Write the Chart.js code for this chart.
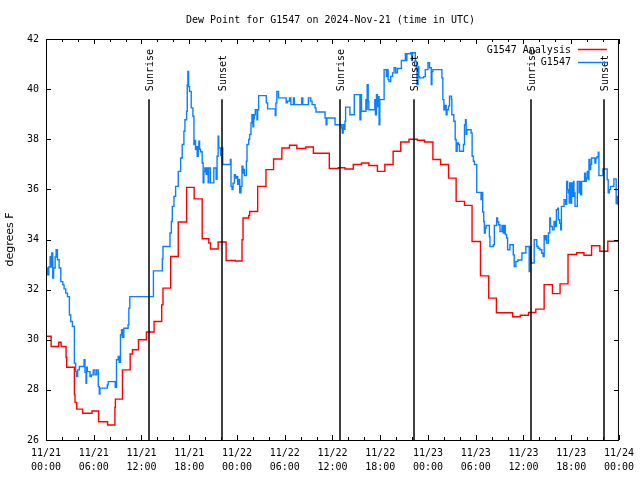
<!DOCTYPE html>
<html>
<head>
<meta charset="utf-8">
<title>Dew Point for G1547</title>
<script src="https://cdn.jsdelivr.net/npm/chart.js@4.4.1/dist/chart.umd.min.js"></script>
<style>
  html, body { margin: 0; padding: 0; background: #fff; }
</style>
</head>
<body>
<canvas id="dewChart" width="640" height="480"></canvas>
<script>
// time axis is hours since 2024-11-21 00:00 UTC
const analysisHours = [0, 0.65, 1.6, 1.9, 2.52, 2.6, 3.57, 3.65, 3.86, 4.6,
	5.78, 6.61, 7.74, 8.66, 8.72, 9.61, 10.58, 10.87, 11.62, 12.62,
	13.58, 14.54, 14.7, 15.67, 16.62, 17.67, 18.62, 19.63, 20.46, 20.67,
	21.63, 22.63, 23.8, 24.63, 24.76, 25.47, 25.6, 26.6, 27.64, 28.6,
	29.64, 30.6, 31.52, 32.64, 33.6, 35.6, 36.73, 37.57, 38.61, 39.65,
	40.57, 41.65, 42.58, 43.62, 44.58, 45.62, 46.66, 47.58, 48.62, 49.58,
	50.59, 51.54, 52.59, 53.54, 54.6, 55.63, 56.6, 58.64, 59.6, 60.64,
	61.55, 62.6, 63.64, 64.6, 65.6, 66.68, 67.6, 68.56, 69.6, 70.6, 72];
const analysisDew = [30.14, 29.73, 29.9, 29.73, 29.3, 28.9, 27.8, 27.5, 27.23, 27.07,
	27.16, 26.73, 26.6, 27.3, 27.63, 28.8, 29.43, 29.6, 30.0, 30.31,
	30.73, 31.39, 32.06, 33.32, 34.7, 36.08, 35.62, 34.03, 33.86, 33.62,
	33.9, 33.16, 33.14, 33.99, 34.86, 34.96, 35.12, 36.12, 36.79, 37.21,
	37.65, 37.76, 37.63, 37.69, 37.44, 36.83, 36.86, 36.81, 36.99, 37.05,
	36.95, 36.72, 36.99, 37.52, 37.89, 38.0, 37.96, 37.89, 37.19, 36.99,
	36.45, 35.52, 35.36, 33.92, 32.55, 31.66, 31.08, 30.92, 30.98, 31.09,
	31.22, 32.2, 31.84, 32.23, 33.4, 33.47, 33.37, 33.75, 33.53, 33.93, 33.89];

const stationHours = [0, 0.19, 0.35, 0.52, 0.6, 0.73, 0.85, 0.95, 1.15, 1.27,
	1.44, 1.65, 1.86, 2.11, 2.27, 2.48, 2.69, 2.94, 3.11, 3.32,
	3.57, 3.73, 3.86, 3.98, 4.19, 4.78, 4.9, 5.03, 5.1, 5.19,
	5.53, 5.7, 5.94, 6.15, 6.36, 6.57, 6.7, 6.78, 7.7, 7.82,
	8.7, 8.86, 9.07, 9.2, 9.36, 9.49, 9.6, 9.78, 10.32, 10.41,
	10.53, 13.5, 14.62, 14.7, 15.58, 15.75, 15.87, 16.08, 16.29, 16.62,
	16.92, 17.12, 17.33, 17.46, 17.67, 17.75, 17.83, 17.92, 18.04, 18.25,
	18.46, 18.59, 18.71, 18.79, 18.87, 19.0, 19.13, 19.21, 19.3, 19.42,
	19.63, 19.75, 19.84, 19.96, 20.13, 20.25, 20.38, 20.46, 20.67, 21.09,
	21.38, 21.5, 21.63, 21.71, 21.96, 22.13, 22.21, 23.17, 23.25, 23.38,
	23.5, 23.68, 23.8, 23.95, 24.09, 24.2, 24.34, 24.51, 24.63, 24.75,
	24.85, 24.93, 25.18, 25.26, 25.47, 25.59, 25.76, 25.88, 26.01, 26.1,
	26.18, 26.3, 26.51, 26.6, 26.72, 27.68, 27.85, 28.81, 28.89, 29.01,
	29.22, 30.18, 30.35, 30.6, 30.77, 31.1, 31.2, 32.14, 32.27, 32.98,
	33.27, 33.44, 33.81, 33.93, 35.07, 35.2, 35.3, 36.32, 37.15, 37.23,
	37.35, 37.45, 37.57, 37.65, 38.19, 38.74, 39.45, 39.57, 39.65, 40.2,
	40.3, 40.36, 40.49, 40.57, 41.32, 41.4, 41.53, 41.65, 41.75, 41.86,
	41.95, 42.49, 42.78, 42.9, 42.99, 43.1, 43.32, 43.55, 43.74, 43.95,
	44.16, 44.66, 45.16, 45.25, 45.35, 45.83, 45.95, 46.05, 46.41, 46.54,
	46.62, 46.75, 46.85, 46.95, 47.45, 47.66, 48.0, 48.2, 48.41, 48.5,
	48.62, 49.75, 49.87, 50.0, 50.15, 50.29, 50.4, 50.58, 50.71, 50.95,
	51.0, 51.25, 51.42, 51.54, 51.67, 51.84, 51.96, 52.46, 52.59, 52.71,
	52.8, 52.88, 53.42, 53.55, 53.71, 53.84, 54.13, 54.67, 54.75, 54.88,
	55.01, 55.09, 55.2, 55.3, 55.72, 55.79, 56.22, 56.34, 56.63, 56.75,
	56.88, 57.05, 57.3, 57.47, 57.59, 57.72, 57.88, 58.01, 58.3, 58.72,
	58.84, 59.05, 59.3, 59.8, 60.3, 60.72, 60.8, 60.93, 61.35, 61.68,
	61.85, 62.06, 62.3, 62.47, 62.6, 62.75, 62.85, 62.93, 63.14, 63.31,
	63.4, 63.64, 63.85, 64.0, 64.14, 64.3, 64.39, 64.55, 64.68, 64.77,
	65.1, 65.3, 65.43, 65.55, 65.64, 65.75, 65.81, 65.9, 66.06, 66.2,
	66.3, 66.35, 66.48, 66.77, 66.98, 67.1, 67.2, 67.31, 67.68, 67.8,
	67.9, 68.02, 68.15, 68.23, 68.35, 68.45, 68.56, 68.98, 69.1, 69.25,
	69.4, 69.48, 69.98, 70.52, 70.65, 70.8, 70.94, 71.36, 71.65, 71.75,
	71.9, 72];
const stationDew = [32.86, 32.59, 32.9, 33.32, 32.9, 33.46, 32.46, 32.86, 33.3, 33.59,
	33.19, 32.86, 32.32, 32.19, 32.03, 31.86, 31.72, 30.99, 30.73, 30.53,
	29.06, 28.73, 28.53, 28.8, 28.93, 29.2, 28.7, 28.26, 28.9, 28.73,
	28.53, 28.6, 28.8, 28.6, 28.8, 28.13, 27.83, 28.07, 28.2, 28.33,
	28.1, 29.2, 29.33, 29.1, 30.2, 30.4, 30.1, 30.46, 30.6, 31.26,
	31.72, 32.75, 33.22, 33.72, 34.26, 34.72, 35.32, 35.72, 36.12, 36.72,
	37.25, 37.79, 38.32, 38.78, 39.12, 40.18, 40.71, 40.1, 39.91, 39.25,
	38.92, 37.79, 37.95, 37.59, 37.7, 37.32, 37.7, 37.92, 37.6, 37.5,
	37.05, 36.26, 36.7, 36.85, 36.6, 36.85, 36.26, 36.85, 36.26, 36.85,
	36.4, 37.32, 38.12, 37.65, 37.35, 37.65, 36.99, 37.19, 36.12, 35.99,
	36.25, 36.59, 36.45, 36.52, 36.2, 36.4, 35.86, 36.12, 36.92, 36.65,
	36.8, 36.55, 37.12, 37.79, 37.99, 38.19, 38.65, 38.98, 38.5, 38.82,
	38.98, 39.18, 38.78, 39.18, 39.74, 39.45, 39.21, 38.95, 39.45, 39.91,
	39.65, 39.45, 39.52, 39.65, 39.38, 39.65, 39.38, 39.65, 39.38, 39.65,
	39.52, 39.38, 39.25, 39.09, 38.85, 38.58, 38.85, 38.58, 38.45, 38.25,
	38.58, 38.4, 38.72, 39.28, 38.98, 39.78, 38.78, 39.78, 39.12, 39.58,
	39.2, 40.18, 39.51, 39.18, 39.58, 38.98, 39.78, 39.3, 39.7, 38.58,
	39.58, 40.78, 40.5, 40.78, 40.38, 40.3, 40.51, 40.65, 40.85, 40.65,
	40.82, 41.14, 41.41, 41.14, 41.41, 41.45, 41.14, 41.45, 41.11, 40.78,
	40.18, 40.9, 40.5, 40.45, 40.5, 40.78, 41.05, 40.85, 40.18, 40.7,
	40.78, 40.45, 39.58, 39.18, 39.35, 38.98, 39.18, 39.32, 39.72, 39.6,
	38.98, 38.72, 37.99, 37.52, 37.85, 37.79, 37.52, 37.79, 38.58, 38.78,
	38.2, 38.38, 38.25, 37.32, 37.12, 36.99, 35.88, 35.59, 35.88, 35.1,
	34.72, 34.26, 34.45, 34.56, 34.12, 33.72, 33.79, 34.56, 34.86, 34.7,
	34.59, 34.32, 34.56, 34.26, 34.56, 34.2, 34.06, 33.59, 33.79, 33.39,
	32.92, 33.12, 33.18, 33.46, 33.72, 32.72, 33.72, 33.06, 33.99, 33.72,
	33.65, 33.59, 33.45, 33.32, 34.15, 33.99, 34.15, 33.86, 34.26, 34.86,
	34.52, 34.39, 34.72, 34.52, 35.19, 35.25, 34.79, 34.65, 34.39, 35.32,
	35.59, 35.4, 36.32, 35.99, 35.86, 35.45, 36.26, 35.45, 36.26, 35.72,
	36.32, 35.86, 35.32, 36.32, 35.86, 36.32, 35.78, 36.32, 36.65, 36.32,
	36.45, 36.72, 36.39, 37.19, 36.79, 37.0, 37.25, 37.05, 37.25, 37.3,
	37.48, 36.55, 36.81, 36.39, 35.86, 35.99, 36.12, 36.42, 35.43, 35.72,
	35.4, 35.4];

const sunriseHours = [12.98, 36.9, 60.92];
const sunsetHours = [22.13, 46.2, 70.07];
const dayLabels = ['11/21', '11/22', '11/23', '11/24'];
const hourLabels = ['00:00', '06:00', '12:00', '18:00'];

const monoFont = '"DejaVu Sans Mono", "Liberation Mono", monospace';

function toPoints(hours, values) {
	return hours.map((h, i) => ({ x: h, y: values[i] }));
}

// gnuplot look: inward ticks, full frame, sun markers, key, title
const gnuplotDecor = {
	id: 'gnuplotDecor',
	afterDatasetsDraw(chart) {
		const ctx = chart.ctx;
		const a = chart.chartArea;
		const xs = chart.scales.x;
		const ys = chart.scales.y;
		const h = a.bottom - a.top;
		ctx.save();
		ctx.strokeStyle = '#000';
		ctx.fillStyle = '#000';

		// sunrise / sunset lines
		ctx.lineWidth = 1.5;
		ctx.font = '10px ' + monoFont;
		const marks = sunriseHours.map(t => [t, 'Sunrise']).concat(sunsetHours.map(t => [t, 'Sunset']));
		marks.forEach(([t, name]) => {
			const px = Math.round(xs.getPixelForValue(t));
			ctx.beginPath();
			ctx.moveTo(px, a.bottom);
			ctx.lineTo(px, a.bottom - 0.85 * h);
			ctx.stroke();
			ctx.save();
			ctx.translate(px + 1, a.bottom - 0.87 * h);
			ctx.rotate(-Math.PI / 2);
			ctx.textAlign = 'left';
			ctx.textBaseline = 'middle';
			ctx.fillText(name, 0, 0);
			ctx.restore();
		});

		// frame
		ctx.lineWidth = 1;
		ctx.strokeRect(a.left + 0.5, a.top + 0.5, a.right - a.left - 1, a.bottom - a.top);

		// tick marks, pointing inward on all four sides
		ctx.beginPath();
		xs.ticks.forEach(t => {
			const px = Math.round(xs.getPixelForValue(t.value)) + 0.5;
			const len = t.value % 6 === 0 ? 5 : 3;
			ctx.moveTo(px, a.bottom);
			ctx.lineTo(px, a.bottom - len);
			ctx.moveTo(px, a.top);
			ctx.lineTo(px, a.top + len);
		});
		ys.ticks.forEach(t => {
			const py = Math.round(ys.getPixelForValue(t.value)) + 0.5;
			ctx.moveTo(a.left, py);
			ctx.lineTo(a.left + 5, py);
			ctx.moveTo(a.right, py);
			ctx.lineTo(a.right - 5, py);
		});
		ctx.stroke();

		// key, top right
		ctx.font = '10px ' + monoFont;
		ctx.textAlign = 'right';
		ctx.textBaseline = 'middle';
		chart.data.datasets.forEach((ds, i) => {
			const y = a.top + 11 + i * 12.5;
			ctx.fillStyle = '#000';
			ctx.fillText(ds.label, a.right - 48, y);
			ctx.strokeStyle = ds.borderColor;
			ctx.lineWidth = 1.5;
			ctx.beginPath();
			ctx.moveTo(a.right - 41, Math.round(y) - 0.5);
			ctx.lineTo(a.right - 12, Math.round(y) - 0.5);
			ctx.stroke();
		});

		// title
		ctx.fillStyle = '#000';
		ctx.textAlign = 'center';
		ctx.fillText('Dew Point for G1547 on 2024-Nov-21 (time in UTC)', (a.left + a.right) / 2 - 2, 20);
		ctx.restore();
	}
};

const dewCtx = document.getElementById('dewChart').getContext('2d');
new Chart(dewCtx, {
	type: 'line',
	data: {
		datasets: [{
			label: 'G1547 Analysis',
			data: toPoints(analysisHours, analysisDew),
			borderColor: '#ff0000',
			borderWidth: 1.4,
			stepped: true,
			pointRadius: 0,
			fill: false
		}, {
			label: 'G1547',
			data: toPoints(stationHours, stationDew),
			borderColor: '#0a80ff',
			borderWidth: 1.4,
			stepped: true,
			pointRadius: 0,
			fill: false
		}]
	},
	options: {
		responsive: false,
		maintainAspectRatio: false,
		devicePixelRatio: 1,
		animation: false,
		parsing: false,
		layout: {
			padding: { top: 39, right: 18, left: 0, bottom: 0 }
		},
		plugins: {
			legend: { display: false },
			title: { display: false },
			tooltip: { enabled: false }
		},
		scales: {
			x: {
				type: 'linear',
				min: 0,
				max: 72,
				afterFit(scale) { scale.height = 40; },
				grid: { display: false, drawTicks: false },
				border: { display: false },
				ticks: {
					stepSize: 2,
					autoSkip: false,
					maxRotation: 0,
					minRotation: 0,
					padding: 6,
					color: '#000',
					font: { family: monoFont, size: 10, lineHeight: 1.4 },
					callback: function(value) {
						if (value % 6 !== 0) return '';
						return [dayLabels[Math.floor(value / 24)], hourLabels[(value % 24) / 6]];
					}
				}
			},
			y: {
				min: 26,
				max: 42,
				afterFit(scale) { scale.width = 46; },
				grid: { display: false, drawTicks: false },
				border: { display: false },
				ticks: {
					stepSize: 2,
					padding: 7,
					color: '#000',
					font: { family: monoFont, size: 10 }
				},
				title: {
					display: true,
					text: 'degrees F',
					color: '#000',
					font: { family: '"DejaVu Sans", sans-serif', size: 11 },
					padding: { top: 4, bottom: 0 }
				}
			}
		}
	},
	plugins: [gnuplotDecor]
});
</script>
</body>
</html>
